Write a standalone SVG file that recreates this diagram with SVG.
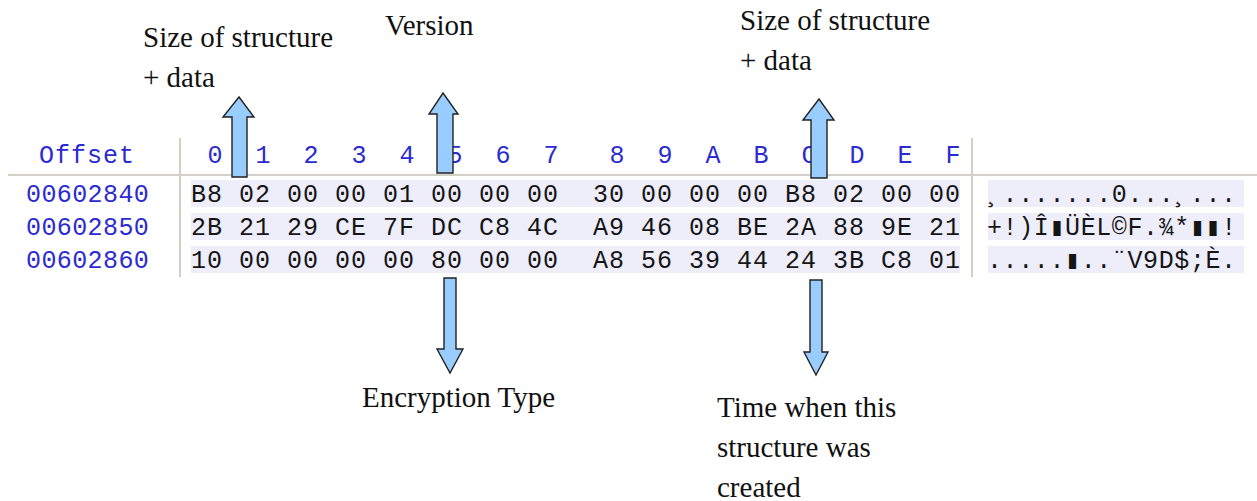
<svg xmlns="http://www.w3.org/2000/svg" width="1257" height="501" viewBox="0 0 1257 501">
<style>
.lbl{font-family:"Liberation Serif","Times New Roman",serif;font-size:29px;fill:#111}
.mono{font-family:"Liberation Mono","Courier New",monospace;font-size:25px}
.blue{fill:#2b2bd1}
.hex{fill:#151515;letter-spacing:1px}
.asc{fill:#151515;letter-spacing:0.6px}
.band{fill:#eeeefb}
.sep{stroke:#d4d0c8;stroke-width:2;fill:none}
.arrow{fill:#99ccff;stroke:#222;stroke-width:1.4;stroke-linejoin:miter}
</style>
<rect width="1257" height="501" fill="#ffffff"/>
<g id="hex-table">
  <rect class="band" x="191" y="180" width="769" height="27"/>
  <rect class="band" x="191" y="213" width="769" height="27"/>
  <rect class="band" x="191" y="246" width="769" height="27"/>
  <rect class="band" x="988" y="180" width="256" height="27"/>
  <rect class="band" x="988" y="213" width="256" height="27"/>
  <rect class="band" x="988" y="246" width="256" height="27"/>
  <line class="sep" x1="8" y1="175" x2="1257" y2="175"/>
  <line class="sep" x1="180" y1="138" x2="180" y2="277"/>
  <line class="sep" x1="972" y1="138" x2="972" y2="277"/>
  <text class="mono blue" x="39" y="163" style="letter-spacing:1px">Offset</text>
  <g class="mono blue" text-anchor="middle">
    <text x="215" y="163">0</text><text x="263" y="163">1</text><text x="311" y="163">2</text><text x="359" y="163">3</text>
    <text x="407" y="163">4</text><text x="455" y="163">5</text><text x="503" y="163">6</text><text x="551" y="163">7</text>
    <text x="617" y="163">8</text><text x="665" y="163">9</text><text x="713" y="163">A</text><text x="761" y="163">B</text>
    <text x="809" y="163">C</text><text x="857" y="163">D</text><text x="905" y="163">E</text><text x="953" y="163">F</text>
  </g>
  <g class="mono blue" style="letter-spacing:0.4px">
    <text x="26" y="202">00602840</text>
    <text x="26" y="235">00602850</text>
    <text x="26" y="268">00602860</text>
  </g>
  <g class="mono hex">
    <text x="191" y="202">B8 02 00 00 01 00 00 00</text>
    <text x="593" y="202">30 00 00 00 B8 02 00 00</text>
    <text x="191" y="235">2B 21 29 CE 7F DC C8 4C</text>
    <text x="593" y="235">A9 46 08 BE 2A 88 9E 21</text>
    <text x="191" y="268">10 00 00 00 00 80 00 00</text>
    <text x="593" y="268">A8 56 39 44 24 3B C8 01</text>
  </g>
  <g class="mono asc">
    <text x="987" y="202">¸.......0...¸...</text>
    <text x="987" y="235">+!)Î▮ÜÈL©F.¾*▮▮!</text>
    <text x="987" y="268">.....▮..¨V9D$;È.</text>
  </g>
</g>
<g id="label-size-1">
  <text class="lbl" x="143" y="47">Size of structure</text>
  <text class="lbl" x="143" y="87">+ data</text>
</g>
<g id="label-version">
  <text class="lbl" x="385" y="35">Version</text>
</g>
<g id="label-size-2">
  <text class="lbl" x="740" y="30">Size of structure</text>
  <text class="lbl" x="740" y="70">+ data</text>
</g>
<g id="label-encryption">
  <text class="lbl" x="362" y="407">Encryption Type</text>
</g>
<g id="label-time">
  <text class="lbl" x="717" y="417">Time when this</text>
  <text class="lbl" x="717" y="457">structure was</text>
  <text class="lbl" x="717" y="497">created</text>
</g>
<g id="connectors">
  <polygon class="arrow" points="239,97 254,117 247,117 247,177 232,177 232,117 223,117"/>
  <polygon class="arrow" points="443,93 458,114 453,114 453,173 437,173 437,114 429,114"/>
  <polygon class="arrow" points="819,99 834,120 827,120 827,178 811,178 811,120 803,120"/>
  <polygon class="arrow" points="444,278 456,278 456,349 463,349 450,373 437,349 444,349"/>
  <polygon class="arrow" points="810,280 822,280 822,352 828,352 816,375 804,352 810,352"/>
</g>
</svg>
